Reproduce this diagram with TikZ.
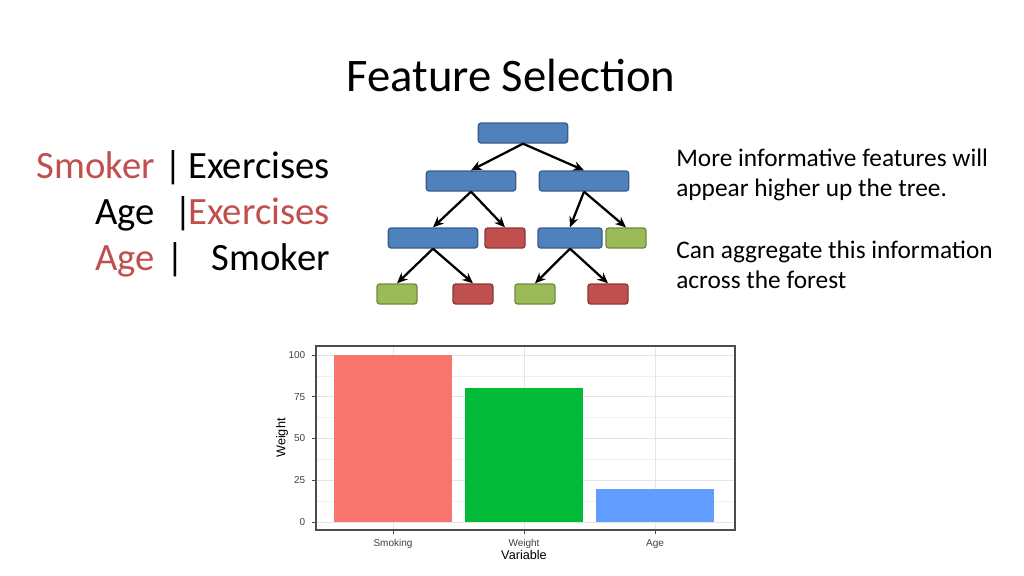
\documentclass[tikz,border=0pt]{standalone}
\usepackage{fontspec}
\setmainfont{Carlito}
\newfontfamily\chartfont{Liberation Sans}
\usetikzlibrary{arrows.meta}
\definecolor{nodeblue}{HTML}{4F81BD}
\definecolor{nodeblueline}{HTML}{385D8A}
\definecolor{nodered}{HTML}{C0504D}
\definecolor{noderedline}{HTML}{8C3836}
\definecolor{nodegreen}{HTML}{9BBB59}
\definecolor{nodegreenline}{HTML}{71893F}
\definecolor{barred}{HTML}{F8766D}
\definecolor{bargreen}{HTML}{00BA38}
\definecolor{barblue}{HTML}{619CFF}
\definecolor{textred}{HTML}{C0504D}
\tikzset{
  box/.style={draw, rounded corners=2pt, line width=1pt, minimum height=15pt, inner sep=0pt},
  split/.style={box, fill=nodeblue, draw=nodeblueline},
  leafred/.style={box, fill=nodered, draw=noderedline, minimum width=30pt},
  leafgreen/.style={box, fill=nodegreen, draw=nodegreenline, minimum width=30pt},
  edge/.style={-{Stealth[length=8pt,width=7pt]}, line width=1.7pt},
  big/.style={font=\fontsize{29}{34}\selectfont, inner sep=0pt, anchor=base east},
  info/.style={font=\fontsize{19}{23}\selectfont, anchor=base west, inner sep=0pt},
  tick/.style={font=\chartfont\fontsize{7.5}{9}\selectfont, text=black!75},
}
\begin{document}
\begin{tikzpicture}[x=0.75pt, y=-0.75pt]
  \useasboundingbox (0,0) rectangle (1024,575);

  % Title
  \node[font=\fontsize{35}{40}\selectfont] (title) at (511,75) {Feature Selection};

  % Left splits
  \node[big, text=textred] (w1) at (155,178) {Smoker};
  \node[big, anchor=base] (b1) at (173,178) {|};
  \node[big] (r1) at (330,178) {Exercises};
  \node[big] (w2) at (155,224) {Age};
  \node[big, anchor=base] (b2) at (183,224) {|};
  \node[big, text=textred] (r2) at (330,224) {Exercises};
  \node[big, text=textred] (w3) at (155,270) {Age};
  \node[big, anchor=base] (b3) at (175,270) {|};
  \node[big] (r3) at (330,270) {Smoker};

  % Tree
  \node[split, minimum width=67pt] (root) at (523,133) {};
  \node[split, minimum width=67pt] (l) at (471,181) {};
  \node[split, minimum width=67pt] (r) at (584,181) {};
  \node[split, minimum width=67pt] (ll) at (433,238) {};
  \node[leafred] (lr) at (505,238) {};
  \node[split, minimum width=48pt] (rl) at (570,238) {};
  \node[leafgreen] (rr) at (626,238) {};
  \node[leafgreen] (lll) at (397,294) {};
  \node[leafred] (llr) at (473,294) {};
  \node[leafgreen] (rll) at (535,294) {};
  \node[leafred] (rlr) at (608,294) {};
  \foreach \a/\b in {root/l, root/r, l/ll, l/lr, r/rl, r/rr, ll/lll, ll/llr, rl/rll, rl/rlr}
    \draw[edge] (\a.south) -- (\b.north);

  % Right text
  \node[info] (t1) at (676,166) {More informative features will};
  \node[info] (t2) at (676,196) {appear higher up the tree.};
  \node[info] (t3) at (676,258) {Can aggregate this information};
  \node[info] (t4) at (676,288) {across the forest};

  % Chart grid
  \foreach \v in {12.5,37.5,62.5,87.5}
    \draw[black!6, line width=0.4pt] (316,{522-1.67*\v}) -- (735,{522-1.67*\v});
  \foreach \v in {0,25,50,75,100}
    \draw[black!10, line width=0.7pt] (316,{522-1.67*\v}) -- (735,{522-1.67*\v});
  \foreach \x in {393,524,655}
    \draw[black!10, line width=0.7pt] (\x,346) -- (\x,530);

  % Bars
  \fill[barred] (334,522) rectangle (452,355);
  \fill[bargreen] (465,522) rectangle (583,388.4);
  \fill[barblue] (596,522) rectangle (714,488.6);
  \draw[black!70, line width=0.8pt] (316,346) rectangle (735,530);

  % Ticks
  \foreach \v in {0,25,50,75,100} {
    \draw[black!70, line width=0.6pt] (312,{522-1.67*\v}) -- (316,{522-1.67*\v});
    \node[tick, anchor=east] at (310,{522-1.67*\v}) {\v};
  }
  \foreach \x/\t in {393/Smoking, 524/Weight, 655/Age} {
    \draw[black!70, line width=0.6pt] (\x,530) -- (\x,534);
    \node[tick, anchor=north] at (\x,535) {\t};
  }
  \node[font=\chartfont\fontsize{9.5}{11}\selectfont] (xlab) at (524,555) {Variable};
  \node[font=\chartfont\fontsize{9.5}{11}\selectfont, rotate=90] (ylab) at (282,438) {Weight};
\end{tikzpicture}
\end{document}
